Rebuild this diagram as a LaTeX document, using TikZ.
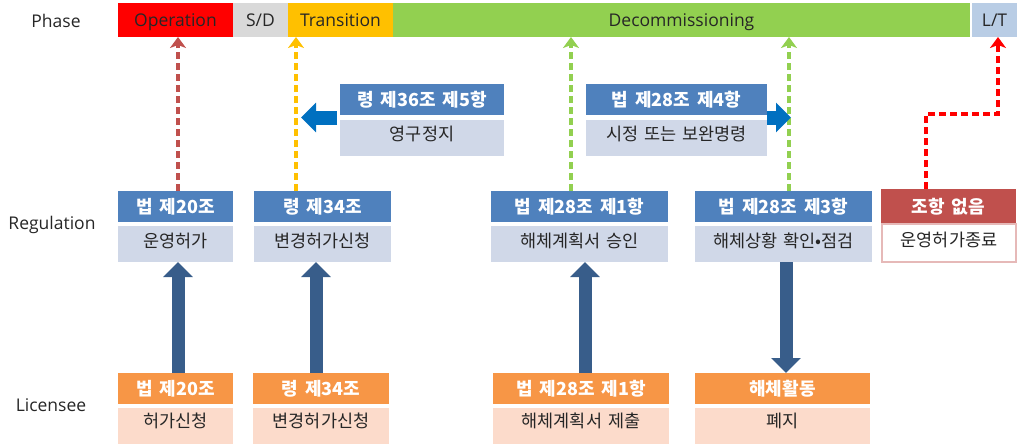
\documentclass[tikz,border=0pt]{standalone}
\usepackage{fontspec}
\setmainfont{Open Sans}
\newfontfamily\kr{Noto Sans CJK KR}
\usetikzlibrary{arrows.meta,calc}

% fonts for box headers and box bodies, with wider word gaps
\newcommand\hdrfont{\kr\bfseries\fontsize{18}{20}\selectfont\spaceskip=7pt\relax}
\newcommand\bodyfont{\kr\fontsize{17.5}{20}\selectfont\spaceskip=6pt\relax}

\definecolor{opred}{HTML}{FF0000}
\definecolor{sdgray}{HTML}{D9D9D9}
\definecolor{transyellow}{HTML}{FFC000}
\definecolor{decomgreen}{HTML}{92D050}
\definecolor{ltblue}{HTML}{B9CDE5}
\definecolor{hdrblue}{HTML}{4F81BD}
\definecolor{bodyblue}{HTML}{D0D8E8}
\definecolor{hdrorange}{HTML}{F79646}
\definecolor{bodyorange}{HTML}{FCDBCB}
\definecolor{hdrred}{HTML}{C0504D}
\definecolor{edgered}{HTML}{E6B9B8}
\definecolor{navy}{HTML}{385D8A}
\definecolor{arrowblue}{HTML}{0070C0}
\definecolor{dashred}{HTML}{C0504D}

\begin{document}
\begin{tikzpicture}[x=1pt,y=-1pt,
  phase/.style={anchor=north west, inner sep=0pt, outer sep=0pt, minimum height=34pt,
    font=\fontsize{17.5}{20}\selectfont, text=black!85, text height=13pt, text depth=0pt},
  rowlabel/.style={inner sep=0pt, font=\fontsize{17.5}{20}\selectfont, text=black!85},
  hdr/.style={anchor=north west, inner sep=0pt, outer sep=0pt, minimum height=31pt,
    text=white, font=\hdrfont, text height=14pt, text depth=0pt},
  bodybox/.style={anchor=north west, inner sep=0pt, outer sep=0pt, minimum height=36pt,
    text=black!85, font=\bodyfont, text height=12pt, text depth=5pt},
  reghdr/.style={hdr, fill=hdrblue},
  regbody/.style={bodybox, fill=bodyblue},
  lichdr/.style={hdr, fill=hdrorange},
  licbody/.style={bodybox, fill=bodyorange, text depth=9pt},
  bigarrow/.style={draw=navy, line width=13pt, -{Triangle[width=29pt,length=15pt]}},
  sidearrow/.style={draw=arrowblue, line width=14pt, -{Triangle[width=29pt,length=15pt]}},
  dashline/.style={line width=3.2pt, dash pattern=on 7pt off 4pt,
    -{Stealth[width=16pt,length=11pt,inset=3pt]}}
]
\useasboundingbox (0,0) rectangle (1017,445);

% phase bar
\node[phase, fill=opred, minimum width=115pt] (op) at (118,3) {Operation};
\node[phase, fill=sdgray, minimum width=55pt] (sd) at (233,3) {S/D};
\node[phase, fill=transyellow, minimum width=105pt] (tr) at (288,3) {Transition};
\node[phase, fill=decomgreen, minimum width=577pt] (dc) at (393,3) {Decommissioning};
\node[phase, fill=ltblue, minimum width=45pt] (lt) at (972,3) {L/T};

% row labels
\node[rowlabel] (lphase) at (56,21) {Phase};
\node[rowlabel] (lreg) at (52,225) {Regulation};
\node[rowlabel] (llic) at (51,405) {Licensee};

% regulation row
\node[reghdr, minimum width=115pt] (rAh) at (118,191) {법 제20조};
\node[regbody, minimum width=115pt] (rAb) at (118,226) {운영허가};
\node[reghdr, minimum width=137pt] (rBh) at (254,191) {령 제34조};
\node[regbody, minimum width=137pt] (rBb) at (254,226) {변경허가신청};
\node[reghdr, minimum width=177pt] (rCh) at (491,191) {법 제28조 제1항};
\node[regbody, minimum width=177pt] (rCb) at (491,226) {해체계획서 승인};
\node[reghdr, minimum width=177pt] (rDh) at (695,191) {법 제28조 제3항};
\node[regbody, minimum width=177pt] (rDb) at (695,226) {해체상황 확인•점검};
\node[hdr, fill=hdrred, minimum width=135pt, minimum height=34pt, text height=15pt] (rEh) at (881,189) {조항 없음};
\node[bodybox, fill=white, draw=edgered, line width=1.5pt, minimum width=134pt, minimum height=38pt] (rEb) at (882,224) {운영허가종료};

% orders issued during the transition and decommissioning phases
\node[reghdr, minimum width=164pt] (fh) at (340,84) {령 제36조 제5항};
\node[regbody, minimum width=164pt, text depth=8pt] (fb) at (340,120) {영구정지};
\node[reghdr, minimum width=181pt] (gh) at (586,84) {법 제28조 제4항};
\node[regbody, minimum width=181pt, text depth=8pt] (gb) at (586,120) {시정 또는 보완명령};

% licensee row
\node[lichdr, minimum width=115pt] (lAh) at (118,373) {법 제20조};
\node[licbody, minimum width=115pt] (lAb) at (118,408) {허가신청};
\node[lichdr, minimum width=136pt] (lBh) at (253,373) {령 제34조};
\node[licbody, minimum width=136pt] (lBb) at (253,408) {변경허가신청};
\node[lichdr, minimum width=176pt] (lCh) at (493,373) {법 제28조 제1항};
\node[licbody, minimum width=176pt] (lCb) at (493,408) {해체계획서 제출};
\node[lichdr, minimum width=175pt] (lDh) at (695,373) {해체활동};
\node[licbody, minimum width=175pt] (lDb) at (695,408) {폐지};

% points where the dashed links reach the phase bar
\coordinate (pA) at (178,37);
\coordinate (pB) at (296,37);
\coordinate (pC) at (571,37);
\coordinate (pD) at (789,37);
\coordinate (pE) at (998,37);
\coordinate (bendE) at (926,114);

% columns of the thick arrows
\coordinate (qA) at (178,0);
\coordinate (qB) at (316,0);
\coordinate (qC) at (585,0);
\coordinate (qD) at (786,0);

% dashed links to the phase bar
\draw[dashline, dashred] (rAh.north -| pA) -- (pA);
\draw[dashline, transyellow] (rBh.north -| pB) -- (pB);
\draw[dashline, decomgreen] (rCh.north -| pC) -- (pC);
\draw[dashline, decomgreen] (rDh.north -| pD) -- (pD);
\draw[dashline, opred] (rEh.north -| bendE) -- (bendE) -- (bendE -| pE) -- (pE);

% licensee <-> regulator arrows
\draw[bigarrow] (lAh.north -| qA) -- (rAb.south -| qA);
\draw[bigarrow] (lBh.north -| qB) -- (rBb.south -| qB);
\draw[bigarrow] (lCh.north -| qC) -- (rCb.south -| qC);
\draw[bigarrow] (rDb.south -| qD) -- (lDh.north -| qD);

% side arrows from the orders
\draw[sidearrow] ([xshift=-3pt]$(fh.south west)!0.5!(fb.north west)$) -- ++(-36,0);
\draw[sidearrow] ($(gh.south east)!0.5!(gb.north east)$) -- ++(24,0);
\end{tikzpicture}
\end{document}
